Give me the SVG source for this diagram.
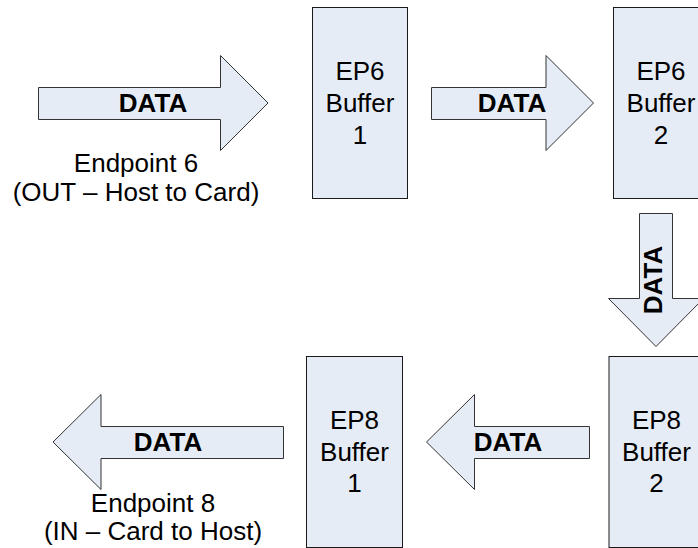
<svg xmlns="http://www.w3.org/2000/svg" width="698" height="548" viewBox="0 0 698 548">
  <style>
    .box { fill: #E6ECF6; stroke: #1a1a1a; stroke-width: 1; }
    .arrow { fill: #E6ECF6; stroke: #333333; stroke-width: 1; stroke-linejoin: miter; }
    .lbl { font-family: "Liberation Sans", Arial, sans-serif; font-size: 26px; fill: #000; text-anchor: middle; }
    .data { font-family: "Liberation Sans", Arial, sans-serif; font-size: 26px; font-weight: bold; fill: #000; text-anchor: middle; }
  </style>
  <rect width="698" height="548" fill="#ffffff"/>

  <g id="connectors">
    <g id="arrow-ep6-in">
      <polygon class="arrow" points="38.5,87.5 220.5,87.5 220.5,55.5 268,103 220.5,150.5 220.5,119.5 38.5,119.5"/>
      <text class="data" x="153" y="111.5">DATA</text>
    </g>
    <g id="arrow-ep6-b1-b2">
      <polygon class="arrow" points="431.5,87.5 546,87.5 546,55.5 593.5,103 546,150.5 546,119.5 431.5,119.5"/>
      <text class="data" x="512" y="111.5">DATA</text>
    </g>
    <g id="arrow-ep6b2-ep8b2">
      <polygon class="arrow" points="639.5,213.5 672.5,213.5 672.5,298.5 703.5,298.5 656,346.5 608.5,298.5 639.5,298.5"/>
      <text class="data" transform="translate(662,280) rotate(-90)" x="0" y="0">DATA</text>
    </g>
    <g id="arrow-ep8-b2-b1">
      <polygon class="arrow" points="589.5,426.5 589.5,458.5 474.5,458.5 474.5,489.5 426.5,442 474.5,394.5 474.5,426.5"/>
      <text class="data" x="508" y="451">DATA</text>
    </g>
    <g id="arrow-ep8-out">
      <polygon class="arrow" points="283.5,426.5 283.5,458.5 101,458.5 101,489.5 53,442 101,394.5 101,426.5"/>
      <text class="data" x="168" y="451">DATA</text>
    </g>
  </g>

  <g id="endpoint6-label">
    <text class="lbl" x="136" y="172">Endpoint 6</text>
    <text class="lbl" x="136" y="200.5">(OUT – Host to Card)</text>
  </g>

  <g id="ep6-buffer1">
    <rect class="box" x="312.5" y="7.5" width="95" height="191"/>
    <text class="lbl" x="360" y="80">EP6</text>
    <text class="lbl" x="360" y="112">Buffer</text>
    <text class="lbl" x="360" y="143.5">1</text>
  </g>

  <g id="ep6-buffer2">
    <rect class="box" x="613.5" y="7.5" width="95" height="191"/>
    <text class="lbl" x="661" y="80">EP6</text>
    <text class="lbl" x="661" y="112">Buffer</text>
    <text class="lbl" x="661" y="143.5">2</text>
  </g>

  <g id="ep8-buffer2">
    <rect class="box" x="609" y="356.5" width="95" height="191"/>
    <text class="lbl" x="656.5" y="428.5">EP8</text>
    <text class="lbl" x="656.5" y="460.5">Buffer</text>
    <text class="lbl" x="656.5" y="492">2</text>
  </g>

  <g id="ep8-buffer1">
    <rect class="box" x="306.5" y="356.5" width="96" height="191"/>
    <text class="lbl" x="354.5" y="428.5">EP8</text>
    <text class="lbl" x="354.5" y="460.5">Buffer</text>
    <text class="lbl" x="354.5" y="492">1</text>
  </g>

  <g id="endpoint8-label">
    <text class="lbl" x="153" y="512">Endpoint 8</text>
    <text class="lbl" x="153" y="540">(IN – Card to Host)</text>
  </g>
</svg>
